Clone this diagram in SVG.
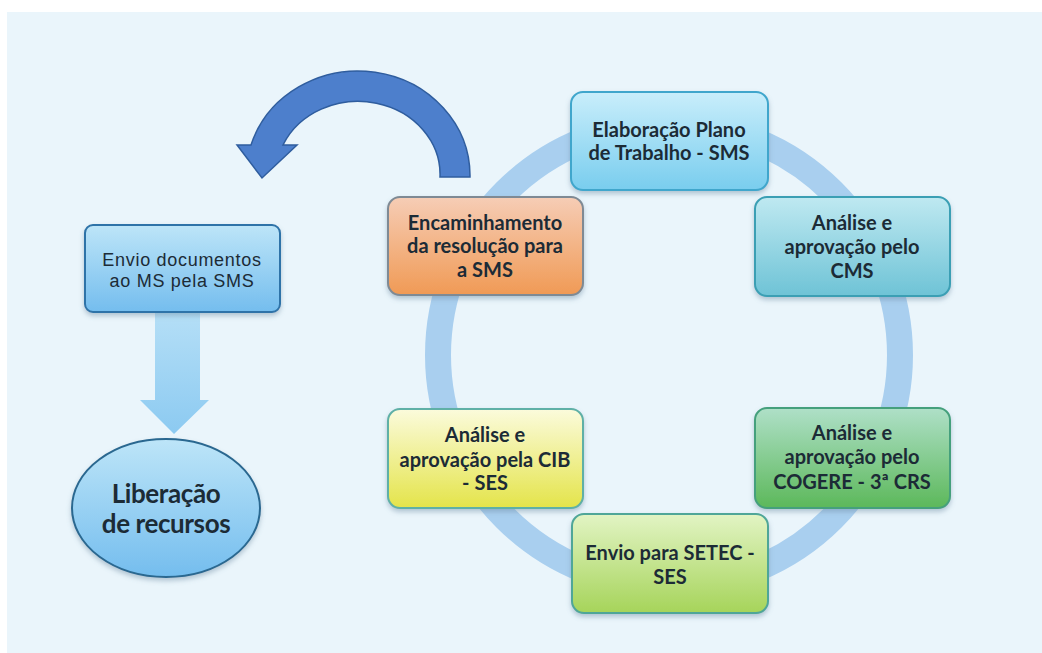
<svg xmlns="http://www.w3.org/2000/svg" width="1042" height="653" viewBox="0 0 1042 653">
  <defs>
    <style>
      .box { stroke-width: 2; }
      .t { font-family: "Lato", "Open Sans", "Liberation Sans", sans-serif; font-weight: bold; font-size: 20px; fill: #1c2b36; text-anchor: middle; }
      .t2 { font-family: "Liberation Sans", Arial, sans-serif; font-size: 18px; fill: #1c2b36; text-anchor: middle; letter-spacing: 0.7px; }
      .big { font-family: "Lato", "Open Sans", "Liberation Sans", sans-serif; font-weight: bold; font-size: 26px; fill: #1c2b36; text-anchor: middle; letter-spacing: -0.4px; }
    </style>
    <filter id="sh" x="-20%" y="-20%" width="140%" height="150%">
      <feDropShadow dx="0" dy="3" stdDeviation="2.5" flood-color="#6a8aa0" flood-opacity="0.45"/>
    </filter>
    <linearGradient id="gBlue" x1="0" y1="0" x2="0" y2="1">
      <stop offset="0" stop-color="#c9eefb"/>
      <stop offset="1" stop-color="#79cdee"/>
    </linearGradient>
    <linearGradient id="gTeal" x1="0" y1="0" x2="0" y2="1">
      <stop offset="0" stop-color="#bfe9f1"/>
      <stop offset="1" stop-color="#6ec3d6"/>
    </linearGradient>
    <linearGradient id="gOrange" x1="0" y1="0" x2="0" y2="1">
      <stop offset="0" stop-color="#f6cdb6"/>
      <stop offset="1" stop-color="#f09a55"/>
    </linearGradient>
    <linearGradient id="gYellow" x1="0" y1="0" x2="0" y2="1">
      <stop offset="0" stop-color="#fbfbdc"/>
      <stop offset="1" stop-color="#e4e44a"/>
    </linearGradient>
    <linearGradient id="gGreen" x1="0" y1="0" x2="0" y2="1">
      <stop offset="0" stop-color="#afe0c8"/>
      <stop offset="1" stop-color="#5cb85a"/>
    </linearGradient>
    <linearGradient id="gLime" x1="0" y1="0" x2="0" y2="1">
      <stop offset="0" stop-color="#e2f4c4"/>
      <stop offset="1" stop-color="#a6d45a"/>
    </linearGradient>
    <linearGradient id="gSky" x1="0" y1="0" x2="0" y2="1">
      <stop offset="0" stop-color="#bde5f8"/>
      <stop offset="1" stop-color="#74bdee"/>
    </linearGradient>
    <linearGradient id="gDown" x1="0" y1="0" x2="0" y2="1">
      <stop offset="0" stop-color="#b9e1f7"/>
      <stop offset="1" stop-color="#8ccaf1"/>
    </linearGradient>
  </defs>

  <rect x="0" y="0" width="1042" height="653" fill="#ffffff"/>
  <rect x="7" y="12" width="1035" height="641" fill="#eaf5fb"/>

  <g id="connectors">
    <circle cx="669" cy="355" r="231" fill="none" stroke="#a9cfef" stroke-width="26"/>
    <path d="M470 177 A112 105 0 0 0 251 145 L237 145 L262 178 L297 145 L283 145 A82 73 0 0 1 440 177 Z" fill="#4d7fcc" stroke="#2f5d9e" stroke-width="1.5"/>
    <path d="M155 300 L200 300 L200 400 L209 400 L174 434 L140 400 L155 400 Z" fill="url(#gDown)"/>
  </g>

  <g id="n-elaboracao">
    <rect class="box" x="571" y="92" width="197" height="98" rx="12" fill="url(#gBlue)" stroke="#3fa6cc" filter="url(#sh)"/>
    <text class="t" x="669" y="137">Elaboração Plano</text>
    <text class="t" x="669" y="160">de Trabalho - SMS</text>
  </g>

  <g id="n-cms">
    <rect class="box" x="755" y="197" width="195" height="99" rx="12" fill="url(#gTeal)" stroke="#3a9fb4" filter="url(#sh)"/>
    <text class="t" x="852" y="230">Análise e</text>
    <text class="t" x="852" y="254">aprovação pelo</text>
    <text class="t" x="852" y="278">CMS</text>
  </g>

  <g id="n-encaminhamento">
    <rect class="box" x="388" y="197" width="195" height="98" rx="12" fill="url(#gOrange)" stroke="#7f8a94" filter="url(#sh)"/>
    <text class="t" x="485" y="230">Encaminhamento</text>
    <text class="t" x="485" y="253">da resolução para</text>
    <text class="t" x="485" y="277">a SMS</text>
  </g>

  <g id="n-cib">
    <rect class="box" x="388" y="409" width="195" height="99" rx="12" fill="url(#gYellow)" stroke="#5fb0a6" filter="url(#sh)"/>
    <text class="t" x="485" y="442">Análise e</text>
    <text class="t" x="485" y="467">aprovação pela CIB</text>
    <text class="t" x="485" y="490">- SES</text>
  </g>

  <g id="n-cogere">
    <rect class="box" x="755" y="408" width="195" height="100" rx="12" fill="url(#gGreen)" stroke="#45a07c" filter="url(#sh)"/>
    <text class="t" x="852" y="440">Análise e</text>
    <text class="t" x="852" y="464">aprovação pelo</text>
    <text class="t" x="852" y="489">COGERE - 3ª CRS</text>
  </g>

  <g id="n-setec">
    <rect class="box" x="572" y="514" width="196" height="99" rx="12" fill="url(#gLime)" stroke="#4fa698" filter="url(#sh)"/>
    <text class="t" x="670" y="560">Envio para SETEC -</text>
    <text class="t" x="670" y="584">SES</text>
  </g>

  <g id="n-envio">
    <rect class="box" x="85" y="225" width="195" height="87" rx="8" fill="url(#gSky)" stroke="#2f73a8" filter="url(#sh)"/>
    <text class="t2" x="182" y="266">Envio documentos</text>
    <text class="t2" x="182" y="287">ao MS pela SMS</text>
  </g>

  <g id="n-liberacao">
    <ellipse cx="166" cy="508" rx="94" ry="69" fill="url(#gSky)" stroke="#2a6890" stroke-width="2" filter="url(#sh)"/>
    <text class="big" x="166" y="503">Liberação</text>
    <text class="big" x="166" y="533">de recursos</text>
  </g>
</svg>
